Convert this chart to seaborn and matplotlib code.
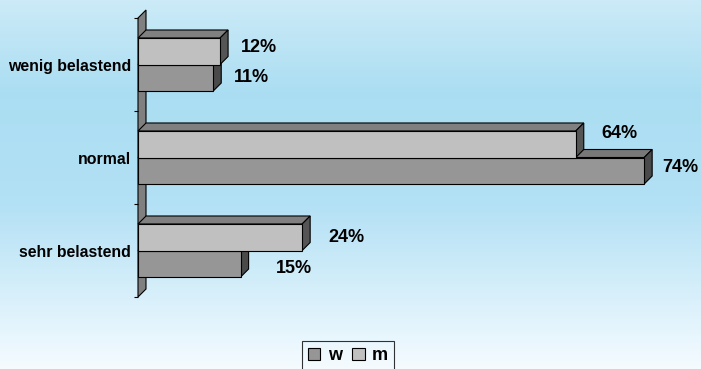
import numpy as np
import pandas as pd
import matplotlib
matplotlib.use("Agg")
import matplotlib.pyplot as plt
from matplotlib.patches import Polygon, Patch
from matplotlib.colors import LinearSegmentedColormap
import seaborn as sns

categories = ["wenig belastend", "normal", "sehr belastend"]
w_values = [11, 74, 15]
m_values = [12, 64, 24]
series = ["m", "w"]

df = pd.DataFrame({
    "cat": categories * 2,
    "val": m_values + w_values,
    "sex": ["m"] * 3 + ["w"] * 3,
})

sns.set_style("white")
plt.rcParams["font.family"] = ["Liberation Sans", "DejaVu Sans"]
plt.rcParams["text.color"] = "black"
plt.rcParams["ytick.color"] = "black"
plt.rcParams["ytick.labelcolor"] = "black"

W, H = 701, 369
fig = plt.figure(figsize=(W / 100, H / 100), dpi=100)

# background gradient
bg = fig.add_axes([0, 0, 1, 1], zorder=-10)
cmap = LinearSegmentedColormap.from_list("bg", [
    (0.0, (0.80, 0.92, 0.97)),
    (0.25, (0.67, 0.87, 0.95)),
    (0.55, (0.70, 0.88, 0.96)),
    (1.0, (0.96, 0.985, 1.0)),
])
grad = np.linspace(0, 1, 256).reshape(-1, 1)
bg.imshow(grad, aspect="auto", cmap=cmap, extent=[0, 1, 0, 1], origin="upper")
bg.set_axis_off()

x0_px, px_per = 138, 6.84
xmax = 82
ax_left = x0_px / W
ax_w = xmax * px_per / W
top_px, bot_px = 18, 297
ax = fig.add_axes([ax_left, 1 - bot_px / H, ax_w, (bot_px - top_px) / H])
ax.patch.set_alpha(0)

colors = {"m": "#c0c0c0", "w": "#969696"}
sns.barplot(data=df, y="cat", x="val", hue="sex", hue_order=series, order=categories,
            palette=colors, width=0.57, edgecolor="black", linewidth=0.8,
            legend=False, ax=ax, orient="h")

ax.set_xlim(0, xmax)
ax.set_ylim(2.5, -0.5)
for s in ax.spines.values():
    s.set_visible(False)
ax.set_xticks([])
ax.set_xlabel("")
ax.set_ylabel("")
ax.set_yticks(range(len(categories)))
ax.set_yticklabels(categories, fontsize=11.4, fontweight="bold", color="black")
ax.tick_params(axis="y", which="major", length=0, pad=5)
ax.set_yticks([-0.5, 0.5, 1.5, 2.5], minor=True)
ax.tick_params(axis="y", which="minor", length=3, width=0.8, color="black", left=True)

# depth in data units
depth_px = 8
dx = depth_px / px_per
dy = depth_px / ((bot_px - top_px) / 3)

# wall
wall = Polygon([(0, -0.5), (dx, -0.5 - dy), (dx, 2.5 - dy), (0, 2.5)], closed=True,
               facecolor="#808080", edgecolor="black", linewidth=0.8, zorder=0.5, clip_on=False)
ax.add_patch(wall)

# label offsets in pixels (right, up) per series/category, as placed in the reference
label_off = {
    "m": [(21, 3.5), (26, 11), (26, 0)],
    "w": [(21, 0), (18, 3), (35, -4.5)],
}

face_cols = {"m": ("#808080", "#555555"), "w": ("#787878", "#4a4a4a")}
zo = {"m": 4, "w": 2}
for hue, cont in zip(series, ax.containers):
    topc, sidec = face_cols[hue]
    for i, bar in enumerate(cont):
        v = bar.get_width()
        y0 = bar.get_y()
        h = bar.get_height()
        yt, yb = min(y0, y0 + h), max(y0, y0 + h)
        bar.set_zorder(zo[hue])
        bar.set_clip_on(False)
        top = Polygon([(0, yt), (v, yt), (v + dx, yt - dy), (dx, yt - dy)], closed=True,
                      facecolor=topc, edgecolor="black", linewidth=0.8, zorder=zo[hue] - 0.5, clip_on=False)
        side = Polygon([(v, yt), (v + dx, yt - dy), (v + dx, yb - dy), (v, yb)], closed=True,
                       facecolor=sidec, edgecolor="black", linewidth=0.8, zorder=zo[hue] - 0.5, clip_on=False)
        ax.add_patch(top)
        ax.add_patch(side)
        ox, oy = label_off[hue][i]
        ax.annotate(f"{int(round(v))}%", (v, (yt + yb) / 2), xytext=(ox * 0.72, oy * 0.72),
                    textcoords="offset points", ha="left", va="center", color="black",
                    fontsize=13, fontweight="bold", zorder=6, annotation_clip=False)

handles = [Patch(facecolor=colors["w"], edgecolor="black", linewidth=0.8),
           Patch(facecolor=colors["m"], edgecolor="black", linewidth=0.8)]
leg = fig.legend(handles, ["w", "m"], loc="upper left", bbox_to_anchor=(302 / W, 1 - 341 / H),
                 ncol=2, frameon=True, fancybox=False, edgecolor="black", facecolor="none",
                 prop={"weight": "bold", "size": 13}, handlelength=0.67, handleheight=0.67,
                 handletextpad=0.4, columnspacing=0.6, borderpad=0.35, borderaxespad=0)
leg.get_frame().set_linewidth(0.8)
for t in leg.get_texts():
    t.set_color("black")

fig.savefig("out.png", dpi=100)
